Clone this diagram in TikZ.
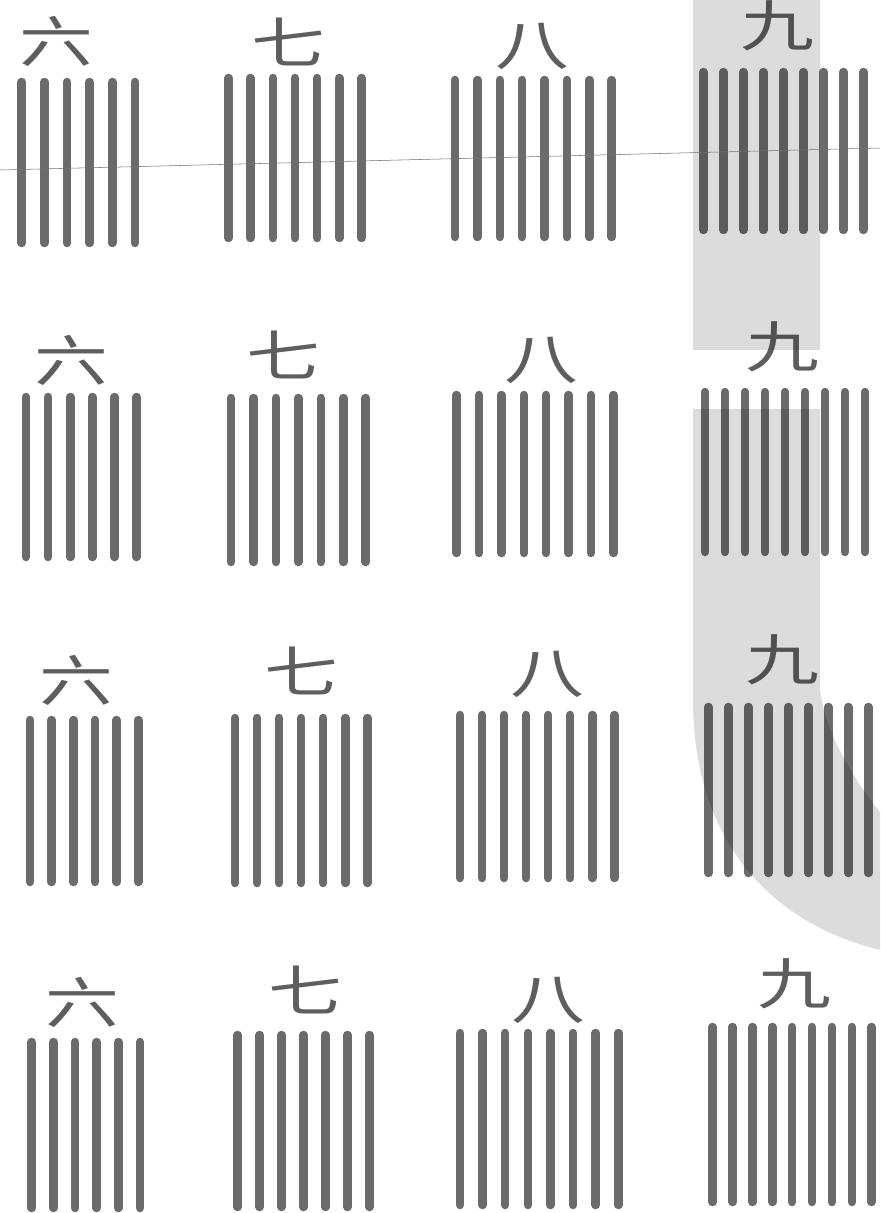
\documentclass[tikz,border=0pt]{standalone}
\usepackage{fontspec}
\usepackage{tikz}
\usetikzlibrary{calc}
\newfontfamily\cjk{Noto Sans CJK SC}
\definecolor{rodgray}{HTML}{6B6B6B}
\definecolor{inkgray}{HTML}{5E5E5E}
\definecolor{bandgray}{HTML}{DCDCDC}
\tikzset{
  rod/.style={rodgray, line width=0.17cm, line cap=round},
  numlabel/.style={text=inkgray, inner sep=0pt, font=\cjk\fontsize{35}{35}\selectfont},
}

\begin{document}
\begin{tikzpicture}[x=0.02cm, y=-0.02cm]
\fill[white] (0,0) rectangle (880,1213);
\useasboundingbox (0,0) rectangle (880,1213);
% grey paper band behind the last column
\fill[bandgray] (693,0) rectangle (820,350);
\fill[bandgray] (693,409) -- (820,409) -- (820,690)
  .. controls (825,730) and (850,775) .. (880,812) -- (880,950)
  .. controls (760,920) and (693,830) .. (693,700) -- cycle;
% counting rods: label/count/first x/last x/top/bottom/label x/label y
\begin{scope}[blend mode=multiply]
\foreach \lab/\n/\xa/\xb/\yt/\yb/\lx/\ly [count=\k] in {
  六/6/21.7/135/82/243/56/41, 七/7/228.3/361.7/78/238/288/42,
  八/8/455/611.7/80/237/532/46, 九/9/703.3/863.3/72/230/777/26,
  六/6/26/136.7/397/557/71/360, 七/7/231/365.7/398/562/283/355,
  八/8/456.7/613.3/395/553/541/360, 九/9/705/865/392/552/782/347,
  六/6/30/138.3/720/882/76/680, 七/7/235/367.3/718/883/301/671,
  八/8/460/614.3/715/878/547/674, 九/9/708.3/868.3/707/873/782/660,
  六/6/31.7/140/1042/1208/82/1002, 七/7/237.7/369.3/1035/1207/305/990,
  八/8/460/618.3/1033/1205/548/1000, 九/9/712.7/871.7/1027/1202/794/984} {
  \node[numlabel] (lab\k) at (\lx,\ly) {\scalebox{1.2}[0.9]{\lab}};
  \foreach \i in {1,...,\n}
    \draw[rod] ({\xa+(\i-1)*(\xb-\xa)/(\n-1)},\yt) -- ({\xa+(\i-1)*(\xb-\xa)/(\n-1)},\yb);
}
\end{scope}
% scanner line across the first row
\draw[black!55, line width=0.3pt] (0,170) -- (880,148);
\end{tikzpicture}
\end{document}
